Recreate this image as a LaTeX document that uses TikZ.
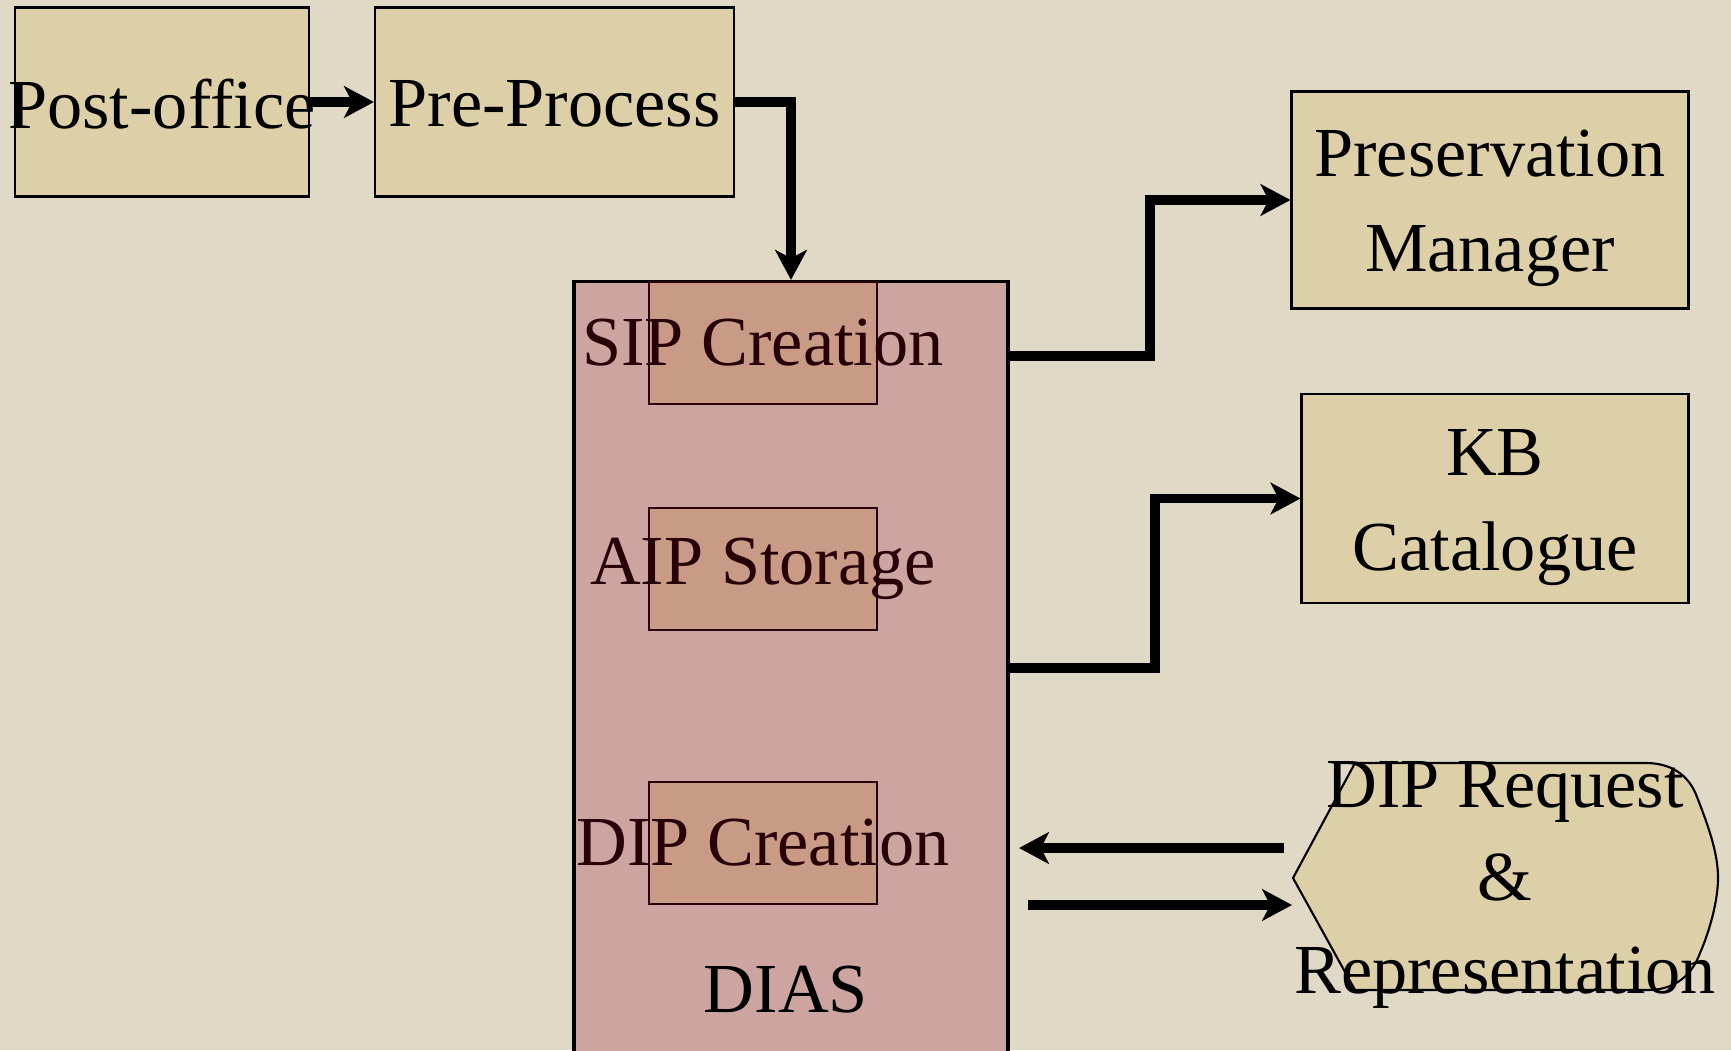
\documentclass[tikz,border=0pt]{standalone}
\usepackage{fontspec}
\setmainfont{Liberation Serif}
\usetikzlibrary{arrows.meta}
\definecolor{bgcol}{RGB}{224,217,198}
\definecolor{boxcol}{RGB}{221,207,167}
\definecolor{diascol}{RGB}{204,165,161}
\definecolor{stepcol}{RGB}{201,154,134}
\definecolor{darkred}{RGB}{40,0,8}
\begin{document}
\begin{tikzpicture}[x=0.1mm,y=-0.1mm,
  every node/.style={font=\fontsize{20pt}{27pt}\selectfont,inner sep=0pt,align=center},
  box/.style={draw,line width=0.6pt,fill=boxcol,minimum height=18.9mm},
  stepbox/.style={draw=darkred,line width=0.6pt,fill=stepcol,minimum width=22.8mm,minimum height=12.2mm},
  flow/.style={line width=2.8pt,-{Stealth[length=8.5pt,width=9pt,inset=2.3pt]}}]
\useasboundingbox (0,0) rectangle (1731,1050);
\fill[bgcol] (0,0) rectangle (1731,1050);
% top row
\node[box,minimum width=29.4mm,label={[yshift=-0.6pt]center:Post-office}] at(162,102)(post){};
\node[box,minimum width=35.9mm,label={[yshift=-0.6pt]center:Pre-Process}] at(554.5,102)(pre){};
% DIAS with its three steps
\node[draw,line width=0.9pt,fill=diascol,minimum width=43.4mm,minimum height=78.9mm] at(791,676)(dias){};
\node[stepbox,label={[text=darkred]center:SIP Creation}] at(763,343)(sip){};
\node[stepbox,label={[text=darkred]center:AIP Storage}] at(763,569)(aip){};
\node[stepbox,label={[text=darkred]center:DIP Creation}] at(763,843)(dipc){};
\node at(786,990)(diaslabel){DIAS};
% right column
\node[box,minimum width=39.7mm,minimum height=21.7mm,label={[yshift=-2.4pt]center:Preservation\\Manager}] at(1490,200)(pm){};
\node[box,minimum width=38.7mm,minimum height=20.9mm,label={[yshift=-2.6pt]center:KB\\Catalogue}] at(1495,498.5)(kb){};
\draw[line width=0.6pt,fill=boxcol] (1293,878) -- (1355,763) -- (1648,763)
  .. controls (1675,764) and (1690,778) .. (1697,797)
  .. controls (1710,830) and (1718,855) .. (1718,878)
  .. controls (1718,900) and (1710,930) .. (1700,953)
  .. controls (1692,975) and (1675,990) .. (1648,990) -- (1355,990) -- cycle;
\node[font=\fontsize{20pt}{26.5pt}\selectfont] at(1505,885)(dip){DIP Request\\\&\\Representation};
% connectors
\coordinate (sipout) at (1008,356);
\coordinate (kbout) at (1008,668);
\coordinate (reqin) at (1284,848);
\coordinate (reqout) at (1019,848);
\coordinate (repin) at (1028,905);
\coordinate (repout) at (1292,905);
\draw[flow] (post.east) -- (pre.west);
\draw[flow] (pre.east) -| (dias.north);
\draw[flow] (sipout) -- (1150,356) |- (pm.west);
\draw[flow] (kbout) -- (1155,668) |- (kb.west);
\draw[flow] (reqin) -- (reqout);
\draw[flow] (repin) -- (repout);
\end{tikzpicture}
\end{document}
